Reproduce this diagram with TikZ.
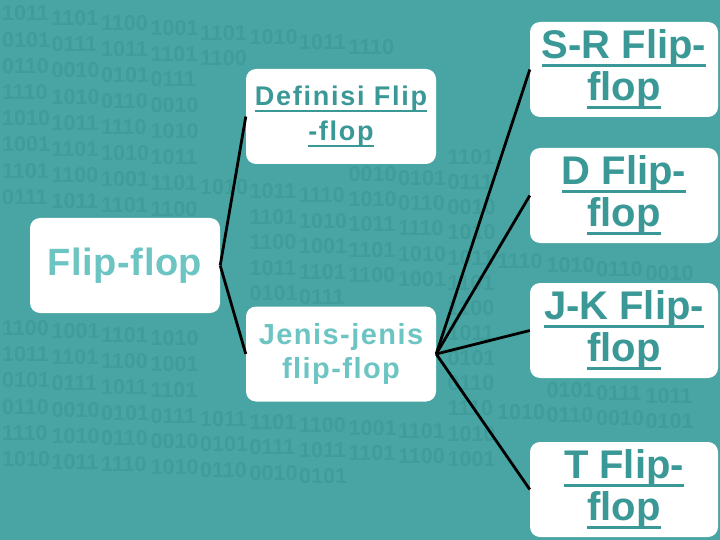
\documentclass[tikz,border=0pt]{standalone}
\usepackage{fontspec}
\setmainfont{Liberation Sans}
\newfontfamily\defont{Liberation Sans}[LetterSpace=6.5]
\newfontfamily\jenfont{Liberation Sans}[LetterSpace=5]
\newfontfamily\fffont{Liberation Sans}[LetterSpace=1.5]
\definecolor{bgteal}{HTML}{48A5A3}
\definecolor{digteal}{HTML}{3F9C9A}
\definecolor{darkteal}{HTML}{3A9896}
\definecolor{lightteal}{HTML}{6CC5C3}
\newcommand\myul[1]{\setbox0\hbox{#1}\rlap{\rule[-0.21em]{\wd0}{0.07em}}\box0}
\newcommand\chunkof[1]{\ifcase#1 1011\or 0110\or 1010\or 1101\or 0010\or 1011\or 1100\or 0101\or 1110\or 1001\or 0111\or 1010\or 1101\fi}
\begin{document}
\begin{tikzpicture}[x=1pt,y=-1pt,
  box/.style={fill=white,rounded corners=10pt,minimum width=190pt,minimum height=95pt,inner sep=0pt,align=center},
  kid/.style={box,minimum width=188pt,text=darkteal,font=\bfseries\fontsize{40}{42}\selectfont},
  link/.style={line width=2.8pt,black},
  digits/.style={anchor=base west,text=digteal,font=\bfseries\fontsize{21.5}{21.5}\selectfont,inner sep=0pt}]
\fill[bgteal] (0,0) rectangle (720,540);
\useasboundingbox (0,0) rectangle (720,540);
% binary texture: short runs of digits stepping down along slanted rows, left out where a box covers them
\foreach \k/\ex in {0/400,1/420,2/440,3/470,4/500,5/540,6/600,7/640,8/720,9/720,10/720,11/720,12/720,13/720,14/720,15/720,16/700,17/380}{
  \pgfmathsetmacro\tn{tan(5.5-0.135*\k)}
  \pgfmathsetmacro\yb{21+26.2*\k}
  \pgfmathtruncatemacro\nn{(\ex-2)/49.5-1}
  \foreach \j in {0,...,\nn}{
    \pgfmathsetmacro\cx{2+\j*49.5}
    \pgfmathsetmacro\cy{\yb+\j*49.5*\tn}
    \pgfmathtruncatemacro\hid{(\cx>-18)*(\cx<220)*(\cy>218)*(\cy<329)+(\cx>198)*(\cx<436)*(\cy>69)*(\cy<180)+(\cx>198)*(\cx<436)*(\cy>307)*(\cy<417)+(\cx>482)*((\cy>22)*(\cy<133)+(\cy>148)*(\cy<259)+(\cy>283)*(\cy<394)+(\cy>442))}
    \pgfmathtruncatemacro\ci{mod(3*\j+7*\k,13)}
    \ifnum\hid=0
      \node[digits] (d-\k-\j) at (\cx,\cy) {\chunkof{\ci}};
    \fi
  }
}
% boxes
\node[box,text=lightteal,font=\fffont\bfseries\fontsize{38}{40}\selectfont] (ff) at (125,265.5) {Flip-flop};
\node[box,text=darkteal,font=\defont\bfseries\fontsize{27}{35}\selectfont] (def) at (341,116.5) {\myul{Definisi Flip}\\\myul{-flop}};
\node[box,text=lightteal,font=\jenfont\bfseries\fontsize{29}{35}\selectfont] (jen) at (341,354) {Jenis-jenis\\flip-flop};
\node[kid] (sr) at (624,69.5) {\myul{S-R Flip-}\\\myul{flop}};
\node[kid] (d) at (624,195.5) {\myul{D Flip-}\\\myul{flop}};
\node[kid] (jk) at (624,330.5) {\myul{J-K Flip-}\\\myul{flop}};
\node[kid] (t) at (624,489.5) {\myul{T Flip-}\\\myul{flop}};
% connectors
\draw[link] (ff.east) -- (def.west);
\draw[link] (ff.east) -- (jen.west);
\draw[link] (jen.east) -- (sr.west);
\draw[link] (jen.east) -- (d.west);
\draw[link] (jen.east) -- (jk.west);
\draw[link] (jen.east) -- (t.west);
\end{tikzpicture}
\end{document}
